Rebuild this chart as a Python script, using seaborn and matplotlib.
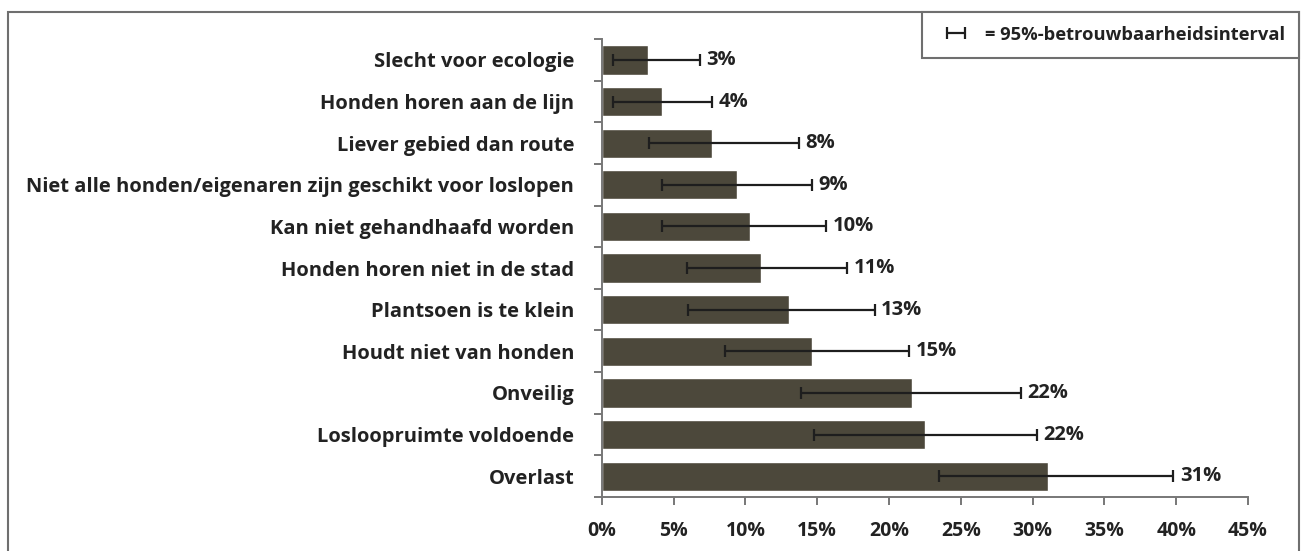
import matplotlib
matplotlib.use('Agg')
import matplotlib.pyplot as plt
import seaborn as sns
import pandas as pd
from matplotlib.patches import Rectangle
from matplotlib.ticker import FixedLocator, PercentFormatter

# Data (percent)
categories = ['Slecht voor ecologie', 'Honden horen aan de lijn', 'Liever gebied dan route',
              'Niet alle honden/eigenaren zijn geschikt voor loslopen', 'Kan niet gehandhaafd worden',
              'Honden horen niet in de stad', 'Plantsoen is te klein', 'Houdt niet van honden',
              'Onveilig', 'Losloopruimte voldoende', 'Overlast']
values = [3.2, 4.2, 7.7, 9.4, 10.3, 11.1, 13.0, 14.6, 21.6, 22.5, 31.1]
ci_low = [0.8, 0.8, 3.3, 4.2, 4.2, 5.9, 6.0, 8.6, 13.9, 14.8, 23.5]
ci_high = [6.8, 7.7, 13.7, 14.6, 15.6, 17.1, 19.0, 21.4, 29.2, 30.3, 39.8]
value_labels = ['3%', '4%', '8%', '9%', '10%', '11%', '13%', '15%', '22%', '22%', '31%']
x_ticks = [0, 5, 10, 15, 20, 25, 30, 35, 40, 45]
legend_text = '= 95%-betrouwbaarheidsinterval'

df = pd.DataFrame({'reden': categories, 'pct': values})

sns.set_style('white')
plt.rcParams['font.family'] = ['Open Sans', 'DejaVu Sans']
plt.rcParams['font.weight'] = 'bold'

bar_color = '#4c483b'
txt_color = '#222222'
fs = 14.5

fig = plt.figure(figsize=(13.1, 5.51), dpi=100)
ax = fig.add_axes([0.4595, 0.098, 0.4931, 0.831])

sns.barplot(data=df, x='pct', y='reden', orient='h', color=bar_color,
            saturation=1, width=0.7, errorbar=None, ax=ax)

pos = list(range(len(categories)))
xerr = [[v - lo for v, lo in zip(values, ci_low)], [hi - v for v, hi in zip(values, ci_high)]]
eb = ax.errorbar(values, pos, xerr=xerr, fmt='none', ecolor='#1e1e1e',
                 elinewidth=1.6, capsize=4.5, capthick=1.6, label=legend_text)

for i, (hi, lab) in enumerate(zip(ci_high, value_labels)):
    ax.text(hi + 0.45, i, lab, va='center', ha='left', fontsize=fs,
            fontweight='bold', color=txt_color)

ax.set_xlim(0, 45)
ax.set_ylim(len(categories) - 0.5, -0.5)
ax.set_xticks(x_ticks)
ax.xaxis.set_major_formatter(PercentFormatter(decimals=0))
ax.set_xlabel('')
ax.set_ylabel('')
ax.yaxis.set_minor_locator(FixedLocator([p - 0.5 for p in pos] + [len(pos) - 0.5]))
ax.tick_params(axis='y', which='major', length=0, pad=20, labelsize=fs, labelcolor=txt_color)
ax.tick_params(axis='y', which='minor', length=6, width=1.4, color='#777777', left=True)
ax.tick_params(axis='x', length=6, width=1.4, color='#777777', bottom=True,
               labelsize=14, labelcolor=txt_color, pad=11)
for lab in ax.get_xticklabels() + ax.get_yticklabels():
    lab.set_fontweight('bold')

sns.despine(ax=ax)
for s in ['left', 'bottom']:
    ax.spines[s].set_color('#777777')
    ax.spines[s].set_linewidth(1.4)

# outer chart frame
fig.patches.append(Rectangle((8 / 1310, -0.05), 1291 / 1310, 1.05 - 12 / 551,
                             transform=fig.transFigure, fill=False,
                             edgecolor='#6f6f6f', linewidth=1.5))

leg = fig.legend(handles=[eb], labels=[legend_text], loc='upper right',
                 bbox_to_anchor=(1299 / 1310, 1 - 12 / 551), fancybox=False,
                 edgecolor='#6f6f6f', framealpha=1, fontsize=13.2, handlelength=2.2,
                 handletextpad=0.5, borderpad=0.75, borderaxespad=0)
leg.get_frame().set_linewidth(1.5)
for t in leg.get_texts():
    t.set_fontweight('bold')
    t.set_color(txt_color)

fig.savefig('out.png', dpi=100)
